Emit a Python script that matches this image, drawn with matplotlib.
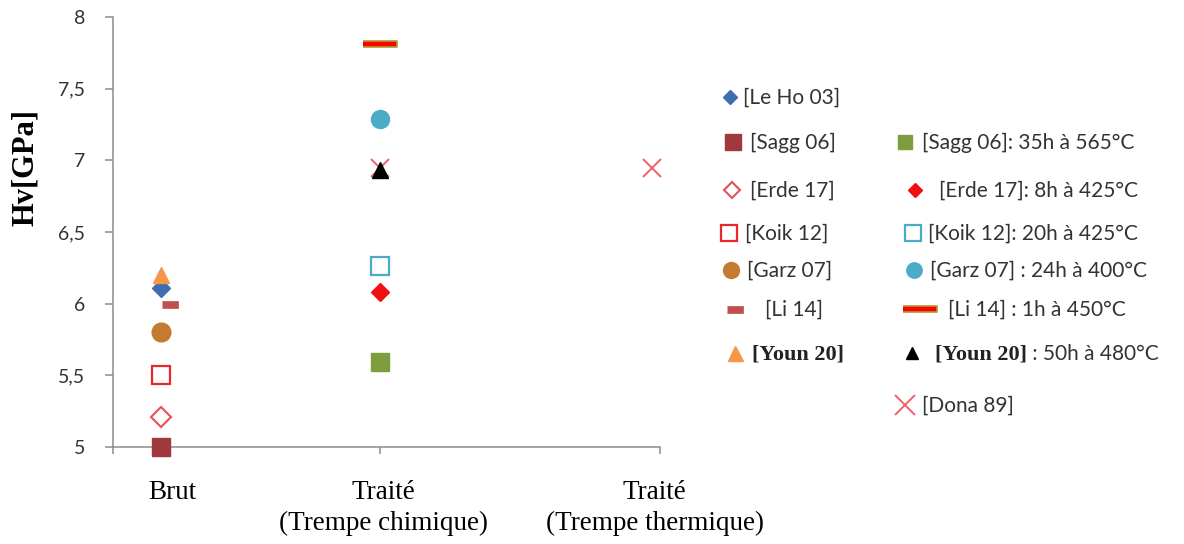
import matplotlib
matplotlib.use("Agg")
import matplotlib.pyplot as plt
import numpy as np

# ---- data ----
CATEGORIES = ["Brut", "Traité\n(Trempe chimique)", "Traité\n(Trempe thermique)"]
X_BRUT = 0.175
X_CHIM = 0.975
X_THERM = 1.97

LEHO_Y = [6.11]
SAGG_Y = [5.00]
SAGG_T_Y = [5.59]
ERDE_Y = [5.21]
ERDE_T_Y = [6.08]
KOIK_Y = [5.50]
KOIK_T_Y = [6.26]
GARZ_Y = [5.80]
GARZ_T_Y = [7.29]
LI_Y = [6.00]
LI_T_Y = [7.81]
YOUN_Y = [6.20]
YOUN_T_Y = [6.93]
DONA_X = [X_CHIM, X_THERM]
DONA_Y = [6.95, 6.95]

YTICKS = [5, 5.5, 6, 6.5, 7, 7.5, 8]
YTICK_LABELS = ["5", "5,5", "6", "6,5", "7", "7,5", "8"]

# ---- marker styles ----
RECT_SMALL = [(-1, -0.42), (1, -0.42), (1, 0.42), (-1, 0.42)]
RECT_LONG = [(-1, -0.2), (1, -0.2), (1, 0.2), (-1, 0.2)]

STYLES = {
    "leho":   dict(marker="D", ms=9, mfc="#3F6EB0", mec="#3F6EB0", mew=1),
    "sagg":   dict(marker="s", ms=13, mfc="#A0393B", mec="#A0393B", mew=1),
    "sagg_t": dict(marker="s", ms=12.5, mfc="#7E9D3E", mec="#7E9D3E", mew=1),
    "erde":   dict(marker="D", ms=10, mfc="white", mec="#E8505A", mew=1.5),
    "erde_t": dict(marker="D", ms=9, mfc="#F01010", mec="#F01010", mew=1),
    "koik":   dict(marker="s", ms=13.5, mfc="white", mec="#E8282E", mew=1.6),
    "koik_t": dict(marker="s", ms=13.5, mfc="white", mec="#4BACC6", mew=1.6),
    "garz":   dict(marker="o", ms=13.5, mfc="#C57A32", mec="#C57A32", mew=1),
    "garz_t": dict(marker="o", ms=13, mfc="#4BACC6", mec="#4BACC6", mew=1),
    "li":     dict(marker=RECT_SMALL, ms=12, mfc="#C0504D", mec="#C0504D", mew=0.5),
    "li_t":   dict(marker=RECT_LONG, ms=24, mfc="#FF0000", mec="#B09A30", mew=1.2),
    "youn":   dict(marker="^", ms=12, mfc="#F79646", mec="#F79646", mew=1),
    "youn_t": dict(marker="^", ms=12, mfc="black", mec="black", mew=1),
    "dona":   dict(marker="x", ms=13, mfc="none", mec="#F0606A", mew=1.4),
}

TICK_FONT = "Lato"
SERIF = "Liberation Serif"
GREY = "#8C8C8C"
TEXT = "#333333"

fig = plt.figure(figsize=(11.84, 5.44), dpi=100)
W, H = 1184, 544
ax = fig.add_axes([113 / W, 1 - 447 / H, (660 - 113) / W, (447 - 17) / H])

ax.set_xlim(0, 2)
ax.set_ylim(5, 8)

# plot order follows the original (triangles drawn last)
ax.plot([X_BRUT], SAGG_Y, ls="none", clip_on=False, zorder=3, **STYLES["sagg"])
ax.plot([X_BRUT], ERDE_Y, ls="none", clip_on=False, zorder=3, **STYLES["erde"])
ax.plot([X_BRUT], KOIK_Y, ls="none", clip_on=False, zorder=3, **STYLES["koik"])
ax.plot([X_BRUT], GARZ_Y, ls="none", clip_on=False, zorder=3, **STYLES["garz"])
ax.plot([0.21], LI_Y, ls="none", clip_on=False, zorder=3, **STYLES["li"])
ax.plot([X_BRUT], LEHO_Y, ls="none", clip_on=False, zorder=3, **STYLES["leho"])
ax.plot([X_BRUT], YOUN_Y, ls="none", clip_on=False, zorder=4, **STYLES["youn"])

ax.plot([X_CHIM], SAGG_T_Y, ls="none", clip_on=False, zorder=3, **STYLES["sagg_t"])
ax.plot([X_CHIM], ERDE_T_Y, ls="none", clip_on=False, zorder=3, **STYLES["erde_t"])
ax.plot([X_CHIM], KOIK_T_Y, ls="none", clip_on=False, zorder=3, **STYLES["koik_t"])
ax.plot([X_CHIM], GARZ_T_Y, ls="none", clip_on=False, zorder=3, **STYLES["garz_t"])
ax.plot([X_CHIM], LI_T_Y, ls="none", clip_on=False, zorder=3, **STYLES["li_t"])
ax.plot(DONA_X, DONA_Y, ls="none", clip_on=False, zorder=3, **STYLES["dona"])
ax.plot([X_CHIM], YOUN_T_Y, ls="none", clip_on=False, zorder=4, **STYLES["youn_t"])

# axes styling
for s in ["top", "right"]:
    ax.spines[s].set_visible(False)
for s in ["left", "bottom"]:
    ax.spines[s].set_color(GREY)
    ax.spines[s].set_linewidth(1.1)

ax.set_yticks(YTICKS)
ax.set_yticklabels(YTICK_LABELS, fontfamily=TICK_FONT, fontsize=14, color=TEXT)
ax.tick_params(axis="y", direction="out", length=6, width=1.1, color=GREY, pad=14)

ax.set_xticks([0, 0.975, 2])
ax.set_xticklabels(["", "", ""])
ax.tick_params(axis="x", which="major", direction="out", length=5, width=1.1, color=GREY)
ax.set_xticks([0.216, 0.99, 1.98], minor=True)
ax.set_xticklabels(CATEGORIES, minor=True, fontfamily=SERIF, fontsize=19.5,
                   linespacing=1.3)
ax.tick_params(axis="x", which="minor", length=0, pad=24)

ax.set_ylabel("Hv[GPa]", fontfamily=SERIF, fontweight="bold", fontsize=22)
ax.yaxis.set_label_coords(-(113 - 40) / 547, (447 - 168) / 430)

# ---- hand-laid legend (pixel coordinates of the whole figure) ----
lax = fig.add_axes([0, 0, 1, 1])
lax.set_xlim(0, W)
lax.set_ylim(H, 0)
lax.axis("off")

LEG_FONT = dict(fontfamily=TICK_FONT, fontsize=15, color=TEXT, va="center")
LEG_BOLD = dict(fontfamily=SERIF, fontweight="bold", fontsize=16, color="#222222", va="center")

left_entries = [
    ("leho", "[Le Ho 03]", 730, 97, 743),
    ("sagg", "[Sagg 06]", 733, 142, 750),
    ("erde", "[Erde 17]", 732, 190, 750),
    ("koik", "[Koik 12]", 729, 233, 745),
    ("garz", "[Garz 07]", 731, 270, 747),
    ("li", "[Li 14]", 735, 309, 765),
]
right_entries = [
    ("sagg_t", "[Sagg 06]: 35h à 565°C", 905, 142, 922),
    ("erde_t", "[Erde 17]: 8h à 425°C", 915, 190, 939),
    ("koik_t", "[Koik 12]: 20h à 425°C", 913, 233, 928),
    ("garz_t", "[Garz 07] : 24h à 400°C", 914, 270, 930),
    ("li_t", "[Li 14] : 1h à 450°C", 920, 309, 948),
    ("dona", "[Dona 89]", 905, 405, 922),
]

LEG_SCALE = {"leho": 0.8, "sagg": 0.85, "erde": 0.8, "koik": 0.85, "garz": 0.85,
             "li": 1.0, "sagg_t": 0.85, "erde_t": 0.8, "koik_t": 0.85, "garz_t": 0.85,
             "li_t": 1.0, "dona": 1.1, "youn": 0.9, "youn_t": 0.75}

def legend_marker(key, x, y):
    st = dict(STYLES[key])
    st["ms"] = st["ms"] * LEG_SCALE[key]
    lax.plot([x], [y], ls="none", **st)

for key, label, mx, my, tx in left_entries + right_entries:
    legend_marker(key, mx, my)
    lax.text(tx, my + 1, label, **LEG_FONT)

# Youn 20 rows: bold serif reference mixed with regular text
legend_marker("youn", 735, 353)
lax.text(752, 354, "[Youn 20]", **LEG_BOLD)
legend_marker("youn_t", 912, 353)
t = lax.text(935, 354, "[Youn 20]", **LEG_BOLD)
lax.annotate(" : 50h à 480°C", xy=(1, 0.5), xycoords=t, va="center",
             fontfamily=TICK_FONT, fontsize=15, color=TEXT)

fig.savefig("out.png", dpi=100)
